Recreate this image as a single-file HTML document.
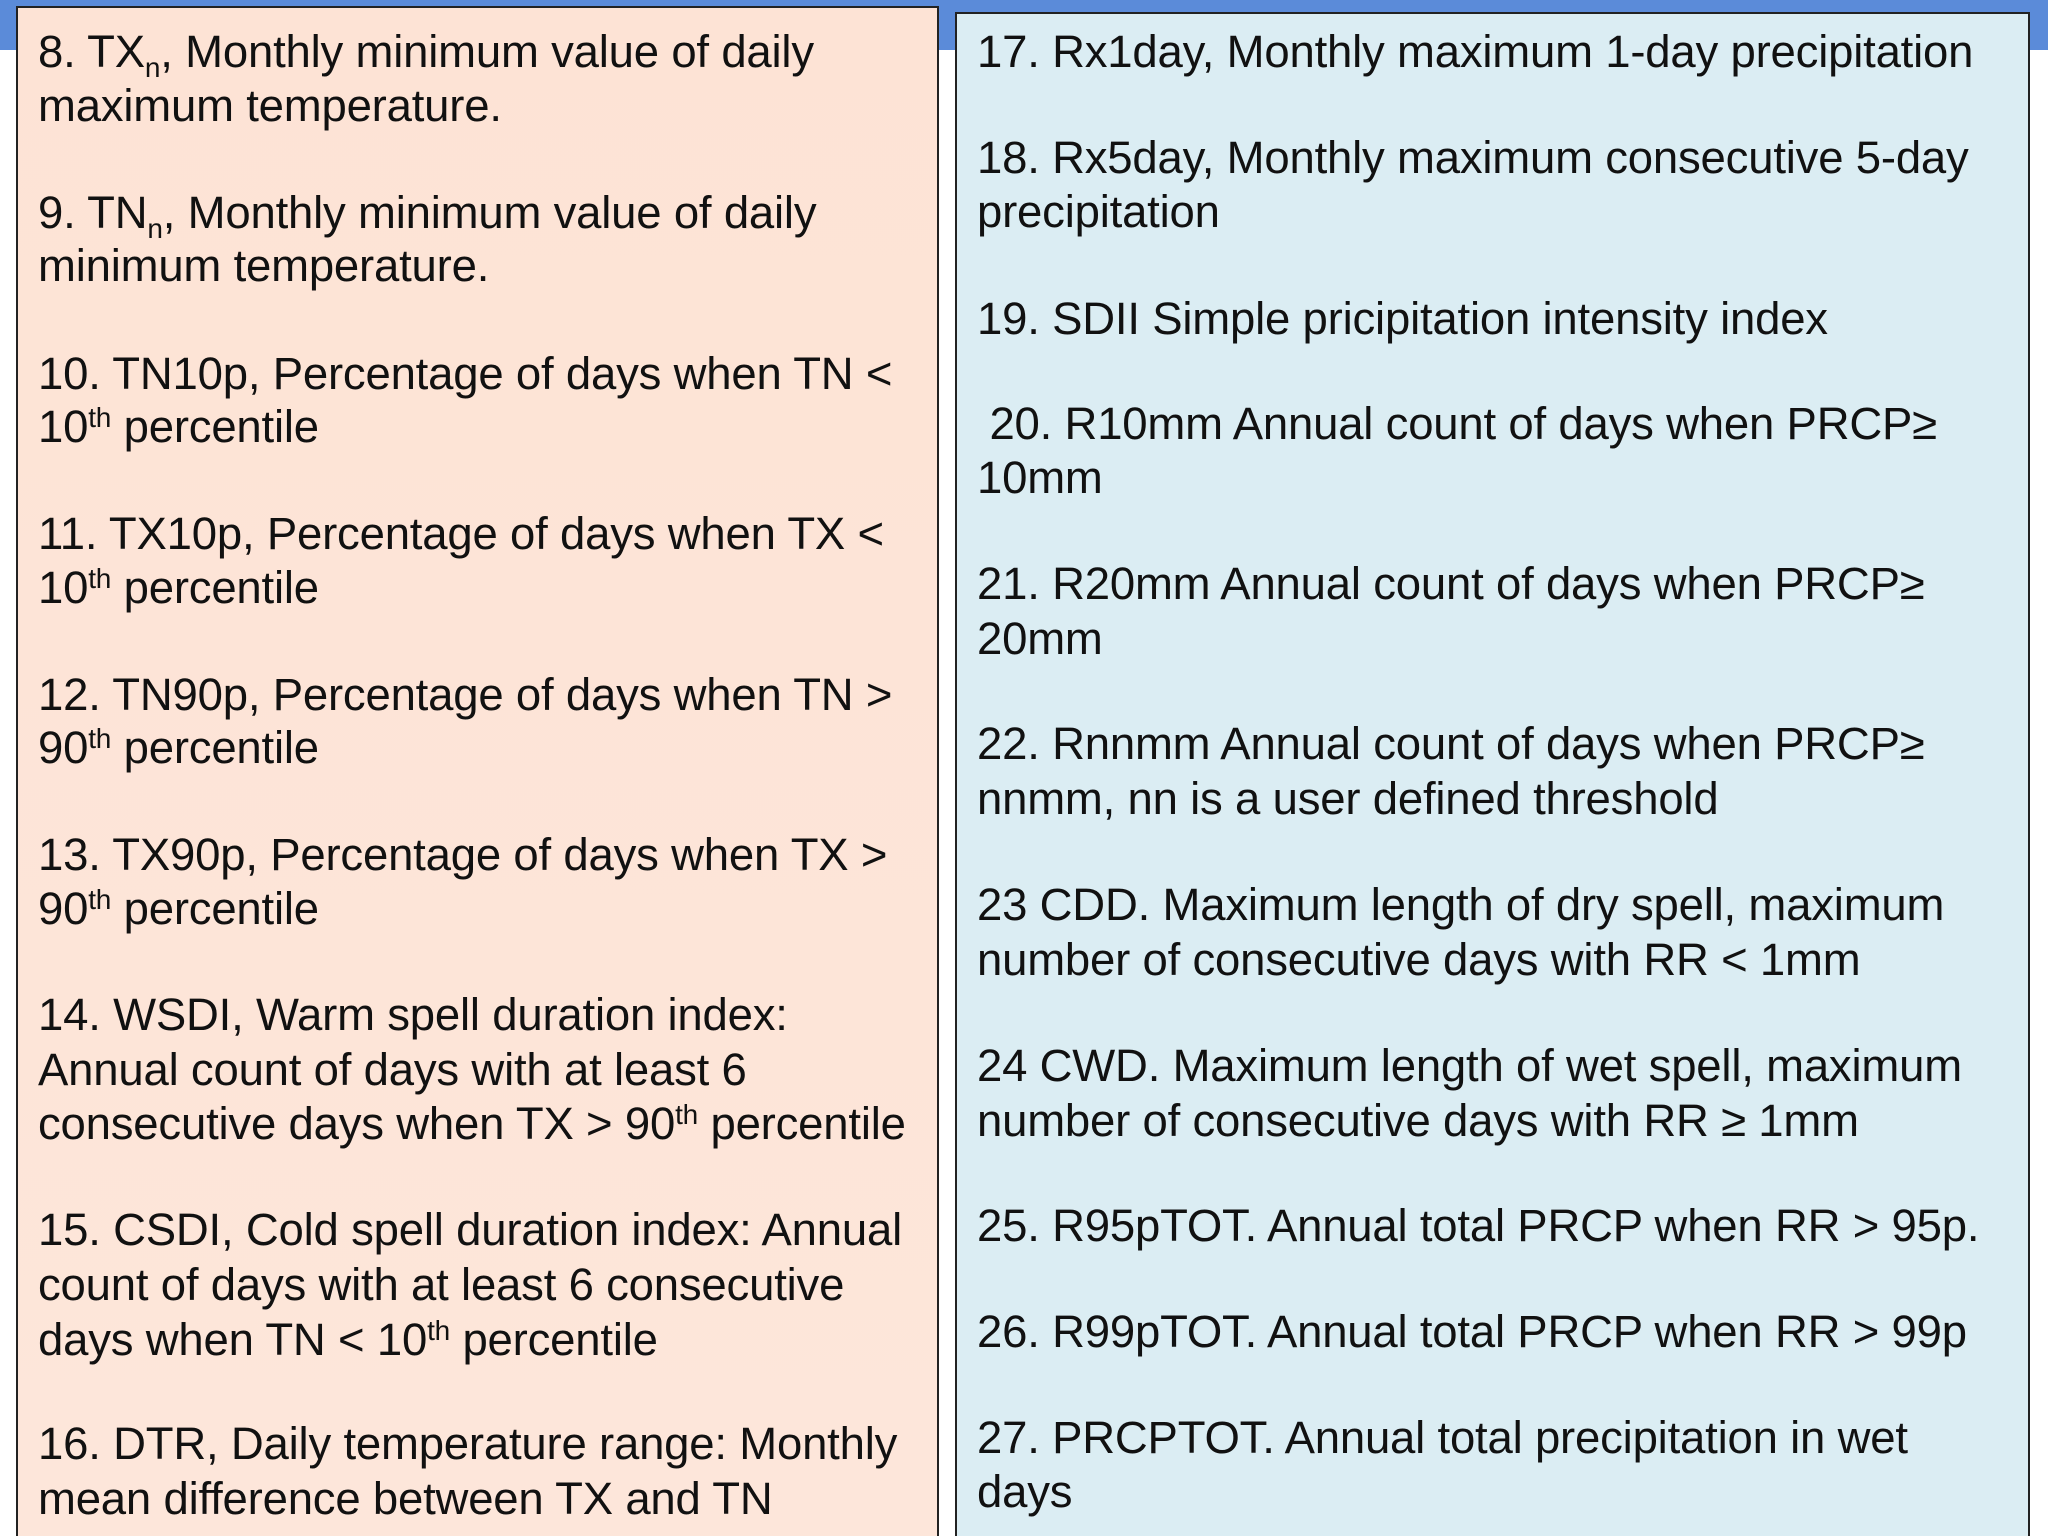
<!DOCTYPE html>
<html style="overflow:hidden;width:2048px;height:1536px"><head><meta charset="utf-8"><style>
body{margin:0;width:2048px;height:1536px;position:relative;overflow:hidden;background:#fff;font-family:"Liberation Sans",sans-serif;}
.bar{position:absolute;left:0;top:0;width:2048px;height:50px;background:#5b8bd9;}
.box{position:absolute;border:2px solid #222;border-bottom:none;}
#L{left:16px;top:6px;width:919px;height:1528px;background:linear-gradient(#fde3d5,#fde6da);}
#R{left:955px;top:12px;width:1071px;height:1522px;background:#dbedf3;}
.t{position:absolute;font-size:45.5px;line-height:54px;color:#111;white-space:nowrap;letter-spacing:-0.2px;}
sup{font-size:28px;vertical-align:15px;line-height:0;}
sub{font-size:28px;vertical-align:-10px;line-height:0;}
</style></head><body>
<div class="bar"></div>
<div class="box" id="L"></div>
<div class="box" id="R"></div>
<div class="t" style="left:38px;top:25px">8. TX<sub>n</sub>, Monthly minimum value of daily</div>
<div class="t" style="left:38px;top:79px">maximum temperature.</div>
<div class="t" style="left:38px;top:186px">9. TN<sub>n</sub>, Monthly minimum value of daily</div>
<div class="t" style="left:38px;top:239px">minimum temperature.</div>
<div class="t" style="left:38px;top:347px">10. TN10p, Percentage of days when TN &lt;</div>
<div class="t" style="left:38px;top:400px">10<sup>th</sup> percentile</div>
<div class="t" style="left:38px;top:507px">11. TX10p, Percentage of days when TX &lt;</div>
<div class="t" style="left:38px;top:561px">10<sup>th</sup> percentile</div>
<div class="t" style="left:38px;top:668px">12. TN90p, Percentage of days when TN &gt;</div>
<div class="t" style="left:38px;top:721px">90<sup>th</sup> percentile</div>
<div class="t" style="left:38px;top:828px">13. TX90p, Percentage of days when TX &gt;</div>
<div class="t" style="left:38px;top:882px">90<sup>th</sup> percentile</div>
<div class="t" style="left:38px;top:988px">14. WSDI, Warm spell duration index:</div>
<div class="t" style="left:38px;top:1043px">Annual count of days with at least 6</div>
<div class="t" style="left:38px;top:1097px">consecutive days when TX &gt; 90<sup>th</sup> percentile</div>
<div class="t" style="left:38px;top:1203px">15. CSDI, Cold spell duration index: Annual</div>
<div class="t" style="left:38px;top:1258px">count of days with at least 6 consecutive</div>
<div class="t" style="left:38px;top:1313px">days when TN &lt; 10<sup>th</sup> percentile</div>
<div class="t" style="left:38px;top:1417px">16. DTR, Daily temperature range: Monthly</div>
<div class="t" style="left:38px;top:1472px">mean difference between TX and TN</div>

<div class="t" style="left:977px;top:25px">17. Rx1day, Monthly maximum 1-day precipitation</div>
<div class="t" style="left:977px;top:131px">18. Rx5day, Monthly maximum consecutive 5-day</div>
<div class="t" style="left:977px;top:185px">precipitation</div>
<div class="t" style="left:977px;top:292px">19. SDII Simple pricipitation intensity index</div>
<div class="t" style="left:977px;top:397px">&nbsp;20. R10mm Annual count of days when PRCP≥</div>
<div class="t" style="left:977px;top:451px">10mm</div>
<div class="t" style="left:977px;top:557px">21. R20mm Annual count of days when PRCP≥</div>
<div class="t" style="left:977px;top:612px">20mm</div>
<div class="t" style="left:977px;top:717px">22. Rnnmm Annual count of days when PRCP≥</div>
<div class="t" style="left:977px;top:772px">nnmm, nn is a user defined threshold</div>
<div class="t" style="left:977px;top:878px">23 CDD. Maximum length of dry spell, maximum</div>
<div class="t" style="left:977px;top:933px">number of consecutive days with RR &lt; 1mm</div>
<div class="t" style="left:977px;top:1039px">24 CWD. Maximum length of wet spell, maximum</div>
<div class="t" style="left:977px;top:1094px">number of consecutive days with RR ≥ 1mm</div>
<div class="t" style="left:977px;top:1199px">25. R95pTOT. Annual total PRCP when RR &gt; 95p.</div>
<div class="t" style="left:977px;top:1305px">26. R99pTOT. Annual total PRCP when RR &gt; 99p</div>
<div class="t" style="left:977px;top:1411px">27. PRCPTOT. Annual total precipitation in wet</div>
<div class="t" style="left:977px;top:1465px">days</div>
</body></html>
